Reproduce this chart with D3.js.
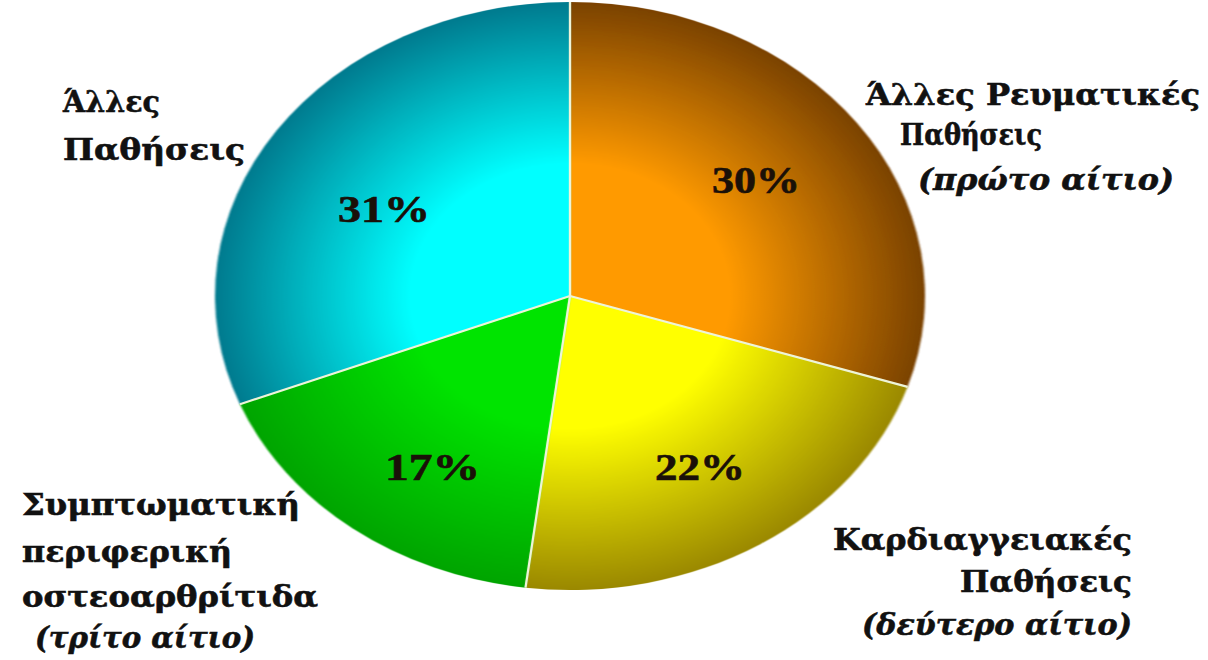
<!DOCTYPE html>
<html>
<head>
<meta charset="utf-8">
<script src="https://cdn.jsdelivr.net/npm/d3@7"></script>
<style>
  html, body { margin: 0; padding: 0; background: #ffffff; }
  svg { display: block; }
</style>
</head>
<body>
<svg id="chart" width="1208" height="660"></svg>
<script>
// ---- data ----
const categories = ["Άλλες Ρευματικές Παθήσεις", "Καρδιαγγειακές Παθήσεις", "Συμπτωματική περιφερική οστεοαρθρίτιδα", "Άλλες Παθήσεις"];
const values = [30, 22, 17, 31];
const valueLabels = ["30%", "22%", "17%", "31%"];
const labelLines = [
  ["Άλλες Ρευματικές", "Παθήσεις", "(πρώτο αίτιο)"],
  ["Καρδιαγγειακές", "Παθήσεις", "(δεύτερο αίτιο)"],
  ["Συμπτωματική", "περιφερική", "οστεοαρθρίτιδα", "(τρίτο αίτιο)"],
  ["Άλλες", "Παθήσεις"]
];
const brightColors = ["#ff9a00", "#ffff00", "#00e400", "#00ffff"];
const darkColors = ["#7a4200", "#9a8800", "#00a400", "#007a8e"];

// ---- layout ----
const svg = d3.select("#chart");
const cx = 570, cy = 296, rx = 355, ry = 294, R = 300;

const defs = svg.append("defs");
brightColors.forEach((c, i) => {
  const g = defs.append("radialGradient")
    .attr("id", "grad" + i)
    .attr("gradientUnits", "userSpaceOnUse")
    .attr("cx", 0).attr("cy", 0).attr("r", R);
  g.append("stop").attr("offset", "0%").attr("stop-color", c);
  g.append("stop").attr("offset", "45%").attr("stop-color", c);
  g.append("stop").attr("offset", "100%").attr("stop-color", darkColors[i]);
});
defs.append("filter").attr("id", "soft")
  .append("feGaussianBlur").attr("stdDeviation", 0.8);

const pie = d3.pie().sort(null).value(d => d);
const arcs = pie(values);
const arc = d3.arc().innerRadius(0).outerRadius(R);

const pg = svg.append("g")
  .attr("transform", `translate(${cx},${cy}) scale(${rx / R},${ry / R})`);

pg.selectAll("path.slice").data(arcs).enter().append("path")
  .attr("class", "slice")
  .attr("d", arc)
  .attr("fill", (d, i) => `url(#grad${i})`)
  .attr("filter", "url(#soft)");

// separator lines
pg.selectAll("line.sep").data(arcs).enter().append("line")
  .attr("class", "sep")
  .attr("x1", 0).attr("y1", 0)
  .attr("x2", d => R * Math.sin(d.startAngle))
  .attr("y2", d => -R * Math.cos(d.startAngle))
  .attr("stroke", "#eef4d8")
  .attr("stroke-width", 2.2)
  .attr("vector-effect", "non-scaling-stroke");

// ---- percentage labels ----
const pctPos = [[712, 193, 88], [655, 480, 90], [385, 480, 95], [338, 222, 92]];
svg.selectAll("text.pct").data(valueLabels).enter().append("text")
  .attr("class", "pct")
  .attr("x", (d, i) => pctPos[i][0])
  .attr("y", (d, i) => pctPos[i][1])
  .attr("textLength", (d, i) => pctPos[i][2])
  .attr("lengthAdjust", "spacingAndGlyphs")
  .attr("font-family", "'Liberation Serif', 'DejaVu Serif', serif")
  .attr("font-weight", "bold")
  .attr("font-size", 37)
  .attr("fill", "#1a1008")
  .attr("stroke", "#1a1008")
  .attr("stroke-width", 0.6)
  .text(d => d);

// ---- category labels (line positions: x, baseline, width) ----
const linePos = [
  [[866, 105, 334], [900, 145, 142], [918, 190, 256]],
  [[833, 550, 299], [960, 592, 172], [862, 635, 270]],
  [[22, 515, 278], [22, 562, 210], [22, 607, 296], [35, 648, 220]],
  [[63, 112, 97], [63, 160, 182]]
];
labelLines.forEach((lines, i) => {
  lines.forEach((t, j) => {
    const p = linePos[i][j];
    svg.append("text")
      .attr("class", "cat")
      .attr("x", p[0]).attr("y", p[1])
      .attr("textLength", p[2])
      .attr("lengthAdjust", "spacingAndGlyphs")
      .attr("font-family", "'DejaVu Serif', 'Liberation Serif', serif")
      .attr("font-weight", "bold")
      .attr("font-style", t.startsWith("(") ? "italic" : "normal")
      .attr("font-size", 30)
      .attr("fill", "#111")
      .attr("stroke", "#111")
      .attr("stroke-width", 0.6)
      .text(t);
  });
});
</script>
</body>
</html>
